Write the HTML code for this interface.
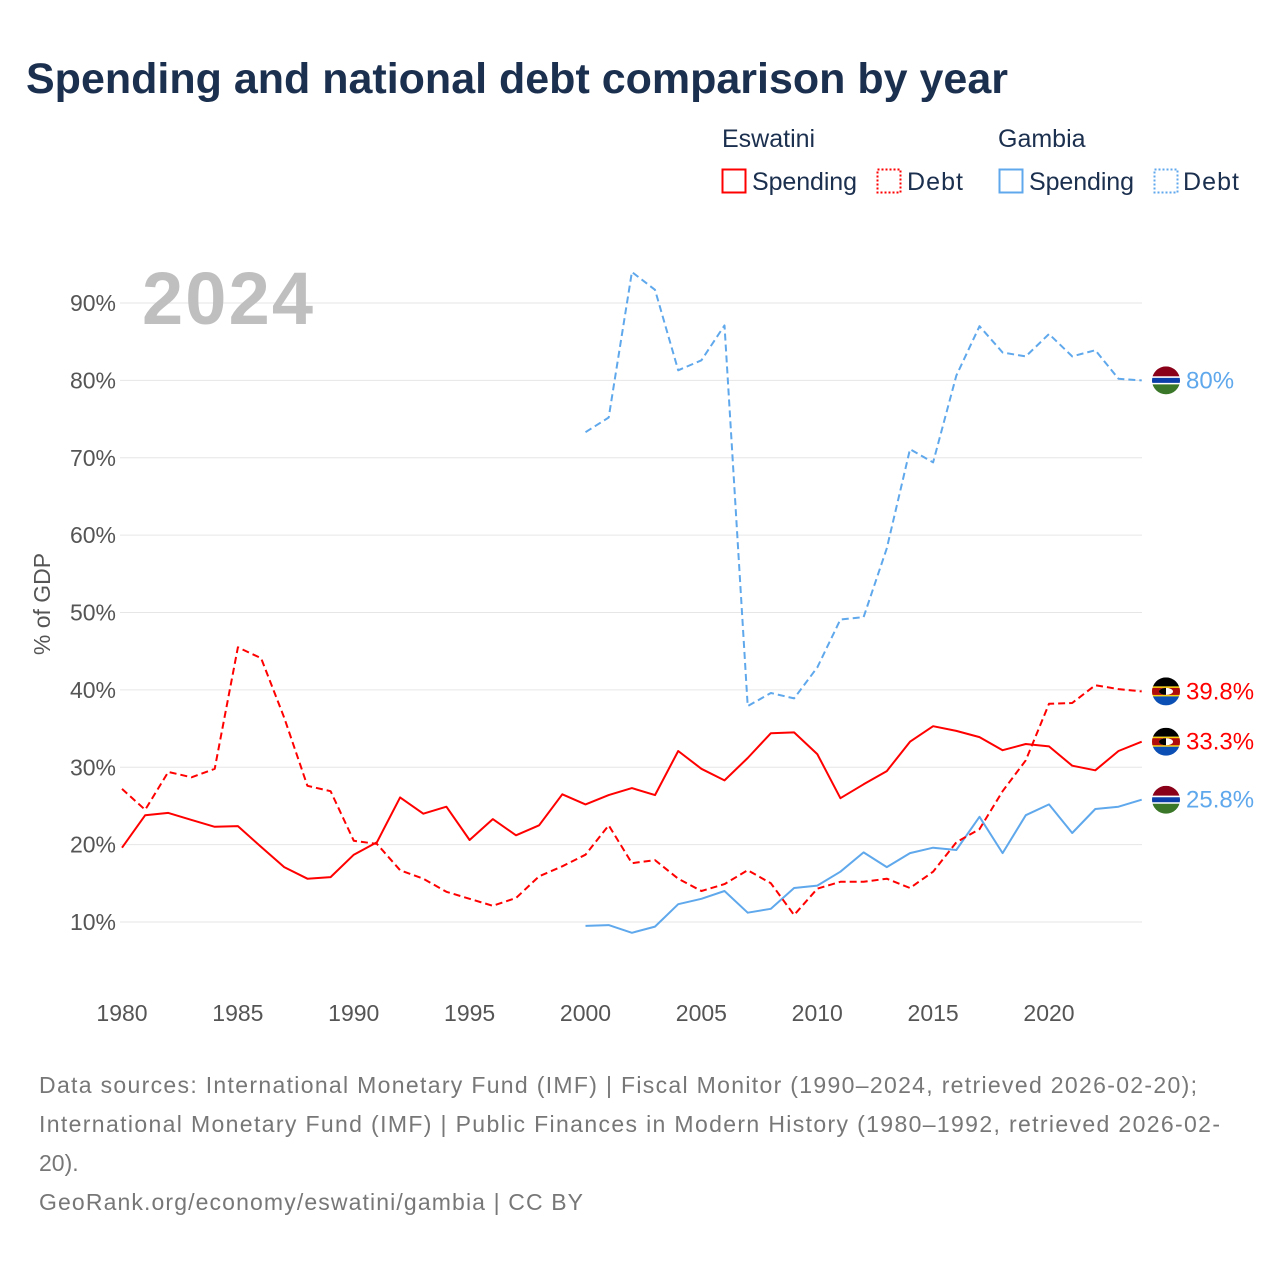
<!DOCTYPE html>
<html><head><meta charset="utf-8">
<style>
body{margin:0;background:#fff;width:1280px;height:1280px;overflow:hidden;font-family:"Liberation Sans",sans-serif;}
svg text{font-family:"Liberation Sans",sans-serif;}
</style></head>
<body>
<svg id="chart" width="1280" height="1280" xmlns="http://www.w3.org/2000/svg">
<text x="26" y="93" font-size="43" font-weight="bold" fill="#1b2f4e">Spending and national debt comparison by year</text>
<g font-size="25" fill="#1b2f4e">
<text x="722" y="147">Eswatini</text>
<text x="998" y="147">Gambia</text>
<g><rect x="722.5" y="169.5" width="23" height="23" fill="none" stroke="#ff0000" stroke-width="2"/><text x="752" y="190" textLength="105">Spending</text></g>
<g><rect x="877.5" y="169.5" width="23" height="23" fill="none" stroke="#ff0000" stroke-width="2" stroke-dasharray="2,2"/><text x="907" y="190" textLength="56">Debt</text></g>
<g><rect x="999.5" y="169.5" width="23" height="23" fill="none" stroke="#5fa8ec" stroke-width="2"/><text x="1029" y="190" textLength="105">Spending</text></g>
<g><rect x="1154.5" y="169.5" width="23" height="23" fill="none" stroke="#5fa8ec" stroke-width="2" stroke-dasharray="2,2"/><text x="1183" y="190" textLength="56">Debt</text></g>
</g>
<g id="grid"></g>
<text x="142" y="324" font-size="74" font-weight="bold" fill="#bfbfbf" textLength="171">2024</text>
<text transform="translate(50,604) rotate(-90)" text-anchor="middle" font-size="23" fill="#555">% of GDP</text>
<g id="series"></g>
<g id="ends"></g>
<g font-size="23" fill="#777">
<text x="39" y="1093" textLength="1158">Data sources: International Monetary Fund (IMF) | Fiscal Monitor (1990–2024, retrieved 2026-02-20);</text>
<text x="39" y="1132" textLength="1181">International Monetary Fund (IMF) | Public Finances in Modern History (1980–1992, retrieved 2026-02-</text>
<text x="39" y="1171">20).</text>
<text x="39" y="1210" textLength="544">GeoRank.org/economy/eswatini/gambia | CC BY</text>
</g>
</svg>
<script>
const yTicks=[10,20,30,40,50,60,70,80,90];
const xTicks=[1980,1985,1990,1995,2000,2005,2010,2015,2020];
const eswYears=[1980,1981,1982,1983,1984,1985,1986,1987,1988,1989,1990,1991,1992,1993,1994,1995,1996,1997,1998,1999,2000,2001,2002,2003,2004,2005,2006,2007,2008,2009,2010,2011,2012,2013,2014,2015,2016,2017,2018,2019,2020,2021,2022,2023,2024];
const eswSpending=[19.6,23.8,24.1,23.2,22.3,22.4,19.7,17.1,15.6,15.8,18.7,20.3,26.1,24.0,24.9,20.6,23.3,21.2,22.5,26.5,25.2,26.4,27.3,26.4,32.1,29.8,28.3,31.2,34.4,34.5,31.7,26.0,27.8,29.5,33.3,35.3,34.7,33.9,32.2,33.0,32.7,30.2,29.6,32.1,33.3];
const eswDebt=[27.2,24.5,29.4,28.7,29.8,45.5,44.1,36.4,27.6,26.9,20.5,20.1,16.7,15.6,13.9,13.0,12.1,13.1,15.9,17.2,18.7,22.5,17.6,18.0,15.6,14.0,14.9,16.7,15.0,10.9,14.3,15.2,15.2,15.6,14.4,16.5,20.3,22.0,26.9,30.9,38.2,38.3,40.6,40.1,39.8];
const gamYears=[2000,2001,2002,2003,2004,2005,2006,2007,2008,2009,2010,2011,2012,2013,2014,2015,2016,2017,2018,2019,2020,2021,2022,2023,2024];
const gamSpending=[9.5,9.6,8.6,9.4,12.3,13.0,14.0,11.2,11.7,14.4,14.7,16.5,19.0,17.1,18.9,19.6,19.3,23.6,18.9,23.8,25.2,21.5,24.6,24.9,25.8];
const gamDebt=[73.3,75.2,94.0,91.7,81.3,82.6,87.1,37.9,39.6,38.9,42.9,49.1,49.4,58.3,71.1,69.4,80.6,87.0,83.6,83.1,86.0,83.1,83.9,80.2,80.0];

const NS="http://www.w3.org/2000/svg";
const xs=y=>122+(y-1980)*(1049-122)/40;
const ys=v=>922-(v-10)*(922-303)/80;
function mk(tag,attrs,parent){const e=document.createElementNS(NS,tag);for(const k in attrs)e.setAttribute(k,attrs[k]);parent.appendChild(e);return e;}
const grid=document.getElementById('grid');
yTicks.forEach(t=>{
  const l=mk('line',{x1:120,x2:1142,y1:ys(t),y2:ys(t),stroke:'#e6e6e6','stroke-width':1},grid);
  
  
  const tx=mk('text',{x:116,y:ys(t)+8,'text-anchor':'end','font-size':23,fill:'#555'},grid);
  tx.textContent=t+'%';
  
  
});
xTicks.forEach(t=>{
  const tx=mk('text',{x:xs(t),y:1021,'text-anchor':'middle','font-size':23,fill:'#555'},grid);
  tx.textContent=t;
  
  
});
const sg=document.getElementById('series');
function line(years,vals,color,dash,name){
  const d=years.map((y,i)=>(i?'L':'M')+xs(y).toFixed(1)+','+ys(vals[i]).toFixed(1)).join(' ');
  const p=mk('path',{d:d,fill:'none',stroke:color,'stroke-width':2,'stroke-linejoin':'round'},sg);
  if(dash)p.setAttribute('stroke-dasharray','7,4');
  
  
}
line(gamYears,gamDebt,'#5fa8ec',true,'gambia-debt-line');
line(gamYears,gamSpending,'#5fa8ec',false,'gambia-spending-line');
line(eswYears,eswDebt,'#ff0000',true,'eswatini-debt-line');
line(eswYears,eswSpending,'#ff0000',false,'eswatini-spending-line');

const eg=document.getElementById('ends');
function flag(cx,cy,type,name){
  const g=mk('g',{},eg);
  
  
  const id='c'+Math.round(cy);
  const cp=mk('clipPath',{id:id},g);mk('circle',{cx:cx,cy:cy,r:14},cp);
  const f=mk('g',{'clip-path':'url(#'+id+')'},g);
  const x0=cx-14,w=28,t=cy-14;
  if(type==='gam'){
    mk('rect',{x:x0,y:t,width:w,height:10,fill:'#8b0019'},f);
    mk('rect',{x:x0,y:t+10,width:w,height:8,fill:'#fff'},f);
    mk('rect',{x:x0,y:t+11.5,width:w,height:5,fill:'#0b3ea8'},f);
    mk('rect',{x:x0,y:t+18,width:w,height:10,fill:'#3a7728'},f);
  }else{
    mk('rect',{x:x0,y:t,width:w,height:9,fill:'#000'},f);
    mk('rect',{x:x0,y:t+9,width:w,height:10,fill:'#f9d10c'},f);
    mk('rect',{x:x0,y:t+10.5,width:w,height:7,fill:'#b10c0c'},f);
    mk('rect',{x:x0,y:t+19,width:w,height:9,fill:'#0b4fb4'},f);
    mk('ellipse',{cx:cx,cy:cy,rx:7,ry:3.5,fill:'#fff'},f);
    mk('path',{d:`M${cx-7},${cy} A7,3.5 0 0 1 ${cx},${cy-3.5} L${cx},${cy+3.5} A7,3.5 0 0 1 ${cx-7},${cy}Z`,fill:'#000'},f);
  }
}
function endLabel(y,v,color,type,name){
  const cy=ys(v);
  flag(1166,cy,type,name+'-flag');
  const tx=mk('text',{x:1186,y:cy+8,'font-size':24,fill:color},eg);
  tx.textContent=(Math.round(v*10)/10)+'%';
  
  
}
endLabel(2024,gamDebt[gamDebt.length-1],'#5fa8ec','gam','gambia-debt');
endLabel(2024,eswDebt[eswDebt.length-1],'#ff0000','esw','eswatini-debt');
endLabel(2024,eswSpending[eswSpending.length-1],'#ff0000','esw','eswatini-spending');
endLabel(2024,gamSpending[gamSpending.length-1],'#5fa8ec','gam','gambia-spending');
</script>
</body></html>
